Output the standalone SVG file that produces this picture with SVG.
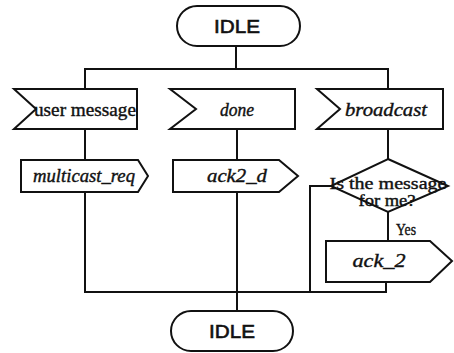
<svg xmlns="http://www.w3.org/2000/svg" width="454" height="353" viewBox="0 0 454 353">
<style>
.s{fill:#fff;stroke:#111;stroke-width:2;stroke-linejoin:miter}
.c{fill:none;stroke:#111;stroke-width:2}
.t{font-family:"Liberation Serif",serif;font-size:19px;fill:#111;stroke:#111;stroke-width:0.4;text-anchor:middle}
.i{font-style:italic}
.st{font-family:"Liberation Sans",sans-serif;font-size:19px;fill:#111;stroke:#111;stroke-width:0.6;text-anchor:middle}
</style>
<rect width="454" height="353" fill="#fff"/>
<g id="connectors">
<path class="c" d="M236,46 V69"/>
<path class="c" d="M85,89 V69 H388 V89"/>
<path class="c" d="M85,129 V160"/>
<path class="c" d="M237,129 V160"/>
<path class="c" d="M388,129 V159"/>
<path class="c" d="M85,192 V292 H386 V282"/>
<path class="c" d="M237,192 V311"/>
<path class="c" d="M331,186 H310 V292"/>
<path class="c" d="M388,212 V241"/>
</g>
<g id="idle-top">
<rect class="s" x="177" y="6" width="123" height="40" rx="20"/>
<text class="st" x="237" y="33" textLength="46" lengthAdjust="spacingAndGlyphs">IDLE</text>
</g>
<g id="in-user-message">
<path class="s" d="M14,89 L137,89 L137,129 L14,129 L36,109 Z"/>
<text class="t" x="85" y="116" textLength="102" lengthAdjust="spacingAndGlyphs">user message</text>
</g>
<g id="in-done">
<path class="s" d="M170,89 L295,89 L295,129 L170,129 L196,109 Z"/>
<text class="t i" x="237" y="116" textLength="34" lengthAdjust="spacingAndGlyphs">done</text>
</g>
<g id="in-broadcast">
<path class="s" d="M317,89 L443,89 L443,129 L317,129 L340,109 Z"/>
<text class="t i" x="386" y="116" textLength="82" lengthAdjust="spacingAndGlyphs">broadcast</text>
</g>
<g id="out-multicast-req">
<path class="s" d="M21,160 L138,160 L148,176 L138,192 L21,192 Z"/>
<text class="t i" x="84" y="182" textLength="102" lengthAdjust="spacingAndGlyphs">multicast_req</text>
</g>
<g id="out-ack2-d">
<path class="s" d="M173,160 L279,160 L298,176 L279,192 L173,192 Z"/>
<text class="t i" x="237" y="182" textLength="60" lengthAdjust="spacingAndGlyphs">ack2_d</text>
</g>
<g id="decision">
<polygon class="s" points="388,159 448,186 388,212 331,186"/>
<text class="t" x="388" y="189" textLength="117" lengthAdjust="spacingAndGlyphs" style="font-size:17px">Is the message</text>
<text class="t" x="387" y="206" textLength="57" lengthAdjust="spacingAndGlyphs" style="font-size:16px">for me?</text>
</g>
<text class="t" x="406" y="235" textLength="20" lengthAdjust="spacingAndGlyphs" style="font-size:17px">Yes</text>
<g id="out-ack-2">
<path class="s" d="M326,241 L430,241 L452,261 L430,282 L326,282 Z"/>
<text class="t i" x="379" y="267" textLength="53" lengthAdjust="spacingAndGlyphs">ack_2</text>
</g>
<g id="idle-bottom">
<rect class="s" x="171" y="311" width="122" height="40" rx="20"/>
<text class="st" x="232" y="338" textLength="46" lengthAdjust="spacingAndGlyphs">IDLE</text>
</g>
</svg>
